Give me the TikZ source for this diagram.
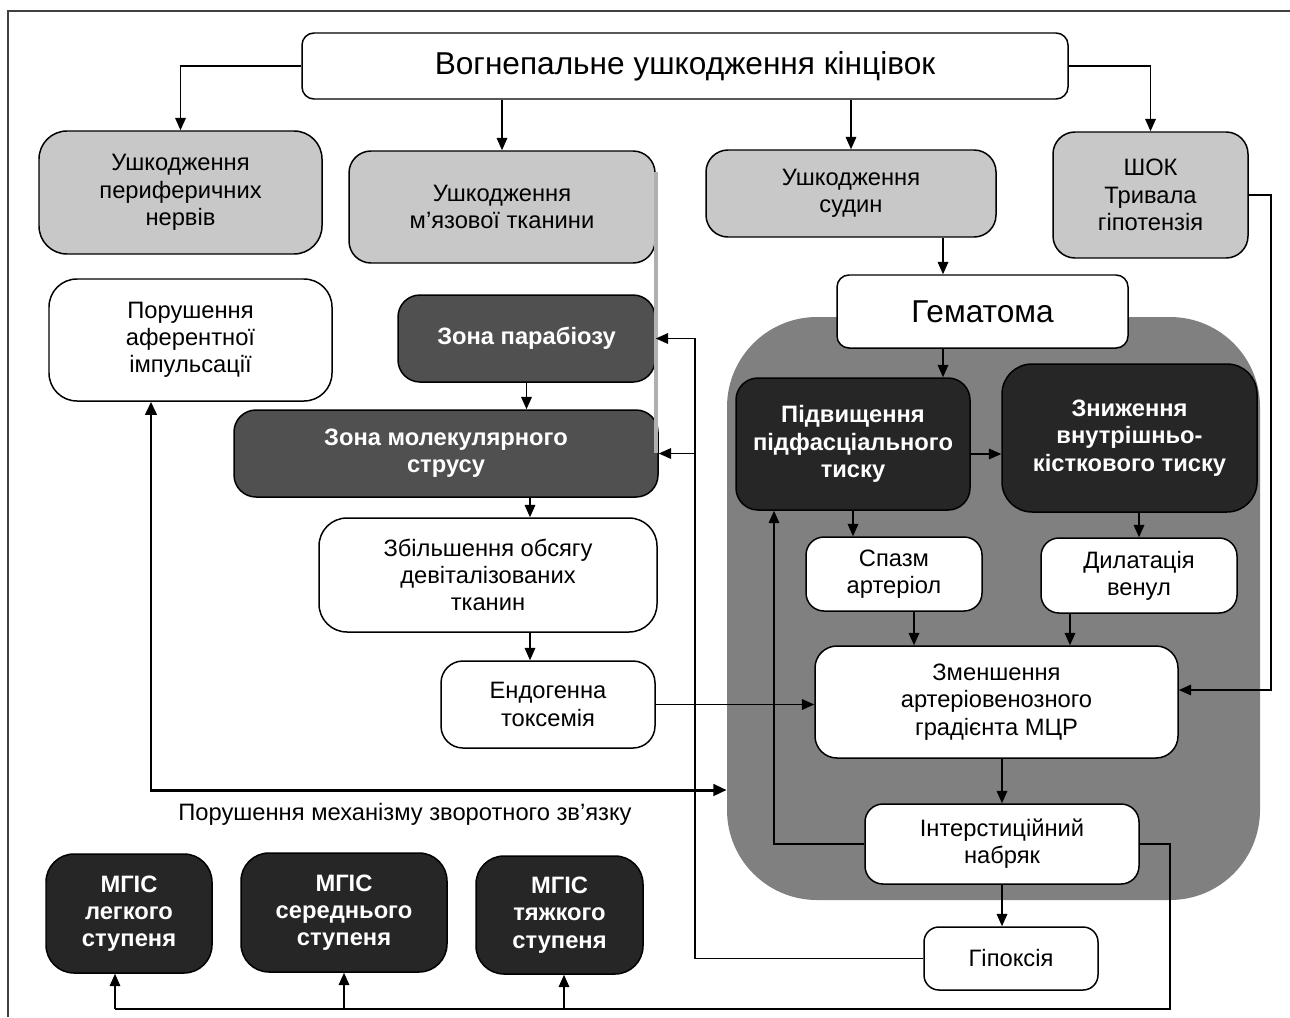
\documentclass[tikz,border=0pt]{standalone}
\usepackage{fontspec}
\setmainfont{Liberation Sans}
\usetikzlibrary{arrows.meta}
\definecolor{lightfill}{HTML}{C8C8C8}
\definecolor{zonefill}{HTML}{505050}
\definecolor{darkfill}{HTML}{262626}
\definecolor{regionfill}{HTML}{808080}
\definecolor{barfill}{HTML}{B0B0B0}
\newcommand{\txtfont}{\fontsize{13.5}{15.5}\selectfont}
\newcommand{\bigfont}{\fontsize{18}{21}\selectfont}
\tikzset{
  base/.style={draw, line width=0.85pt, rounded corners=0.44cm, align=center, inner sep=1pt, font=\txtfont},
  sz/.style 2 args={minimum width=#1*0.02cm, minimum height=#2*0.02cm},
  plain/.style={base, fill=white},
  light/.style={base, fill=lightfill},
  zone/.style={base, fill=zonefill, text=white, font=\txtfont\bfseries},
  dark/.style={base, fill=darkfill, text=white, font=\txtfont\bfseries},
  region/.style={fill=regionfill, rounded corners=1.8cm},
  arr/.style={-{Triangle[length=7pt,width=6pt]}, line width=0.85pt},
  fbarr/.style={{Triangle[length=7.5pt,width=6.5pt]}-{Triangle[length=7.5pt,width=6.5pt]}, line width=1.7pt}
}
\begin{document}
\begin{tikzpicture}[x=0.02cm, y=-0.02cm]
  \useasboundingbox (0,0) rectangle (1290,1017);
  \draw[line width=0.9pt, black!75] (8,1017) -- (8,11) -- (1290,11);
  \node[region, sz={533}{583}] (region) at (993.5,608.5) {};

  \node[plain, sz={766}{66}, rounded corners=0.24cm, font=\bigfont] (top) at (685,66) {Вогнепальне ушкодження кінцівок};
  \node[light, sz={283}{123}, rounded corners=0.56cm] (nerves) at (180.5,192.5) {Ушкодження\\периферичних\\нервів};
  \node[light, sz={306}{112}] (muscle) at (502,207) {Ушкодження\\м’язової тканини};
  \node[light, sz={290}{87}] (vessels) at (851,193.5) {Ушкодження\\судин};
  \node[light, sz={195}{126}] (shock) at (1150.5,195) {ШОК\\Тривала\\гіпотензія};

  \node[plain, sz={283}{122}, rounded corners=0.56cm] (aff) at (190.5,340) {Порушення\\аферентної\\імпульсації};
  \node[zone, sz={257}{87}] (parab) at (526.5,338.5) {Зона парабіозу};
  \node[zone, sz={424}{87}] (molec) at (446,453.5) {Зона молекулярного\\струсу};
  \node[plain, sz={338}{114}, rounded corners=0.56cm] (devit) at (488,575) {Збільшення обсягу\\девіталізованих\\тканин};
  \node[plain, sz={214}{87}] (endo) at (548,704.5) {Ендогенна\\токсемія};

  \node[plain, sz={291}{73}, rounded corners=0.24cm, font=\bigfont] (hemat) at (982.5,311.5) {Гематома};
  \node[dark, sz={234}{132}] (subfas) at (853,444) {Підвищення\\підфасціального\\тиску};
  \node[dark, sz={255}{148}, rounded corners=0.6cm] (intraos) at (1129.5,438) {Зниження\\внутрішньо-\\кісткового тиску};
  \node[plain, sz={176}{74}, rounded corners=0.36cm] (spasm) at (894,574) {Спазм\\артеріол};
  \node[plain, sz={196}{75}, rounded corners=0.36cm] (dilat) at (1139,575.5) {Дилатація\\венул};
  \node[plain, sz={363}{112}] (grad) at (996.5,702) {Зменшення\\артеріовенозного\\градієнта МЦР};
  \node[plain, sz={274}{80}, rounded corners=0.36cm] (edema) at (1002,844) {Інтерстиційний\\набряк};
  \node[plain, sz={174}{63}, rounded corners=0.3cm] (hypox) at (1011,958.5) {Гіпоксія};

  \node[dark, sz={166}{119}, rounded corners=0.56cm] (mgisA) at (129,913.5) {МГІС\\легкого\\ступеня};
  \node[dark, sz={206}{119}, rounded corners=0.56cm] (mgisB) at (344,912.5) {МГІС\\середнього\\ступеня};
  \node[dark, sz={167}{118}, rounded corners=0.56cm] (mgisC) at (559.5,915) {МГІС\\тяжкого\\ступеня};
  \node[font=\txtfont] (fblabel) at (405,814) {Порушення механізму зворотного зв’язку};

  \draw[line width=2.2pt, barfill] (656,172) -- (656,453);

  \coordinate (colH) at (943,0);
  \coordinate (colS) at (914,0);
  \coordinate (colV) at (1070,0);
  \coordinate (colR) at (1271,0);
  \coordinate (colF) at (774,0);
  \coordinate (colP) at (695,0);
  \coordinate (colM) at (530,0);
  \coordinate (bus) at (1170,1009);
  \coordinate (fb) at (151,790);

  \draw[arr] (top.west) -| (nerves.north);
  \draw[arr] (muscle.north |- top.south) -- (muscle.north);
  \draw[arr] (vessels.north |- top.south) -- (vessels.north);
  \draw[arr] (top.east) -| (shock.north);
  \draw[arr] (vessels.south -| colH) -- (hemat.north -| colH);
  \draw[arr] (hemat.south -| colH) -- (subfas.north -| colH);
  \draw[arr] ([yshift=-0.2cm]subfas.east) -- ([yshift=-0.2cm]intraos.west |- subfas.east);
  \draw[arr] (subfas.south) -- (subfas.south |- spasm.north);
  \draw[arr] (dilat.north |- intraos.south) -- (dilat.north);
  \draw[arr] (spasm.south -| colS) -- (grad.north -| colS);
  \draw[arr] (dilat.south -| colV) -- (grad.north -| colV);
  \draw[arr] (shock.east) -| ([yshift=0.24cm]grad.east -| colR) -- ([yshift=0.24cm]grad.east);
  \draw[arr] (endo.east) -- (grad.west |- endo.east);
  \draw[arr] (grad.south -| edema.north) -- (edema.north);
  \draw[arr] (edema.south) -- (edema.south |- hypox.north);
  \draw[arr] (edema.west) -| (subfas.south -| colF);
  \draw[line width=0.85pt] (edema.east) -| (bus) -- ([xshift=-0.28cm]bus -| mgisA.south);
  \foreach \m/\dx in {mgisA/-0.28,mgisB/0,mgisC/0.09}
    \draw[arr] ([xshift=\dx cm]\m.south |- bus) -- ([xshift=\dx cm]\m.south);
  \draw[arr] (hypox.west) -| (parab.east -| colP) -- (parab.east);
  \draw[arr] (molec.east -| colP) -- (molec.east);
  \draw[arr] (parab.south) -- (parab.south |- molec.north);
  \draw[arr] (molec.south -| colM) -- (devit.north -| colM);
  \draw[arr] (devit.south -| colM) -- (endo.north -| colM);
  \draw[fbarr] (aff.south -| fb) -- (fb) -- (fb -| region.west);
\end{tikzpicture}
\end{document}
